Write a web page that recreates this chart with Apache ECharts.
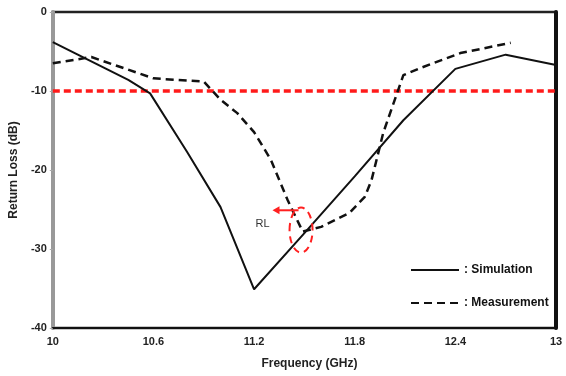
<!DOCTYPE html>
<html>
<head>
<meta charset="utf-8">
<script src="https://cdn.jsdelivr.net/npm/echarts@6/dist/echarts.min.js"></script>
<style>
  html, body { margin: 0; padding: 0; background: #fff; }
  #chart { width: 566px; height: 376px; }
</style>
</head>
<body>
<div id="chart"></div>
<script>
// values (GHz, dB)
const simFreq = [10, 10.45, 10.58, 10.8, 11.0, 11.2, 11.5, 11.8, 12.09, 12.4, 12.7, 13]
const simLoss = [-3.8, -8.6, -10.3, -17.7, -24.7, -35.1, -28, -20.8, -13.7, -7.2, -5.4, -6.7]

const measFreq = [10, 10.23, 10.6, 10.9, 11.0, 11.1, 11.2, 11.3, 11.4, 11.49, 11.6, 11.77, 11.86, 11.9, 11.97, 12.09, 12.19, 12.43, 12.73]
const measLoss = [-6.5, -5.7, -8.4, -8.8, -11.1, -12.8, -15.2, -18.7, -23.8, -27.8, -27.2, -25.4, -23.4, -21.3, -15.3, -8.0, -7.1, -5.2, -3.9]

const xTicks = [10, 10.6, 11.2, 11.8, 12.4, 13]
const yTicks = [0, -10, -20, -30, -40]
const threshold = -10

const pairs = (xs, ys) => xs.map((x, i) => [x, ys[i]])

const chart = echarts.init(document.getElementById('chart'))
const font = 'Arial, "Liberation Sans", sans-serif'

const option = {
  animation: false,
  grid: {
    left: 52, right: 10, top: 12, bottom: 48,
    show: true, borderColor: '#222', borderWidth: 2.5,
  },
  legend: {
    orient: 'vertical',
    left: 405,
    top: 259,
    itemWidth: 48,
    itemHeight: 10,
    itemGap: 21,
    itemStyle: { opacity: 0 },
    textStyle: { fontFamily: font, fontSize: 12, fontWeight: 'bold', color: '#111' },
    formatter: name => ': ' + name,
    data: ['Simulation', 'Measurement'],
  },
  xAxis: {
    type: 'value',
    min: 10,
    max: 13,
    name: 'Frequency (GHz)',
    nameLocation: 'middle',
    nameGap: 30,
    nameTextStyle: { fontFamily: font, fontSize: 12, fontWeight: 'bold', color: '#222', padding: [0, 0, 0, 10] },
    axisLine: { onZero: false, lineStyle: { color: '#111', width: 2 } },
    axisTick: { show: false },
    splitLine: { show: false },
    axisLabel: {
      customValues: xTicks,
      margin: 8,
      fontFamily: font, fontSize: 11, fontWeight: 'bold', color: '#222',
    },
  },
  yAxis: [{
    type: 'value',
    min: -40,
    max: 0,
    name: 'Return Loss (dB)',
    nameLocation: 'middle',
    nameGap: 32,
    nameTextStyle: { fontFamily: font, fontSize: 12, fontWeight: 'bold', color: '#222' },
    axisLine: { lineStyle: { color: '#999', width: 4 } },
    axisTick: { customValues: yTicks, length: 3, lineStyle: { color: '#aaa' } },
    splitLine: { show: false },
    axisLabel: {
      customValues: yTicks,
      margin: 6,
      fontFamily: font, fontSize: 11, fontWeight: 'bold', color: '#222',
    },
  }, {
    type: 'value',
    position: 'right',
    min: -40,
    max: 0,
    axisLine: { show: true, lineStyle: { color: '#111', width: 4 } },
    axisTick: { show: false },
    axisLabel: { show: false },
    splitLine: { show: false },
  }],
  series: [{
    name: 'Simulation',
    type: 'line',
    data: pairs(simFreq, simLoss),
    symbol: 'none',
    lineStyle: { color: '#111', width: 2 },
    itemStyle: { color: '#111' },
    z: 3,
  }, {
    name: 'Measurement',
    type: 'line',
    data: pairs(measFreq, measLoss),
    symbol: 'none',
    lineStyle: { color: '#111', width: 2.5, type: [8, 5] },
    itemStyle: { color: '#111' },
    z: 3,
  }, {
    name: 'threshold',
    type: 'line',
    data: [[10, threshold], [13, threshold]],
    symbol: 'none',
    lineStyle: { color: '#ff1a1a', width: 3.5, type: [7, 4] },
    z: 2,
  }],
}

chart.setOption(option)

// RL annotation, placed in data coordinates
const px = (x, y) => chart.convertToPixel({ gridIndex: 0 }, [x, y])
const c = px(11.48, -27.6)
const a0 = px(11.465, -25.1)
const a1 = px(11.31, -25.1)
const rl = px(11.25, -26.8)

chart.setOption({
  graphic: [{
    type: 'ellipse',
    shape: { cx: c[0], cy: c[1], rx: 11.5, ry: 22.5 },
    style: { fill: 'none', stroke: '#ff2020', lineWidth: 2, lineDash: [7, 5] },
    z: 10,
  }, {
    type: 'line',
    shape: { x1: a0[0], y1: a0[1], x2: a1[0] + 5, y2: a1[1] },
    style: { stroke: '#ff2020', lineWidth: 2 },
    z: 10,
  }, {
    type: 'polygon',
    shape: { points: [[a1[0], a1[1]], [a1[0] + 7, a1[1] - 4], [a1[0] + 7, a1[1] + 4]] },
    style: { fill: '#ff2020' },
    z: 10,
  }, {
    type: 'text',
    x: rl[0],
    y: rl[1],
    style: { text: 'RL', fill: '#333', font: '11px ' + font, align: 'center', verticalAlign: 'middle' },
    z: 10,
  }],
})
</script>
</body>
</html>
